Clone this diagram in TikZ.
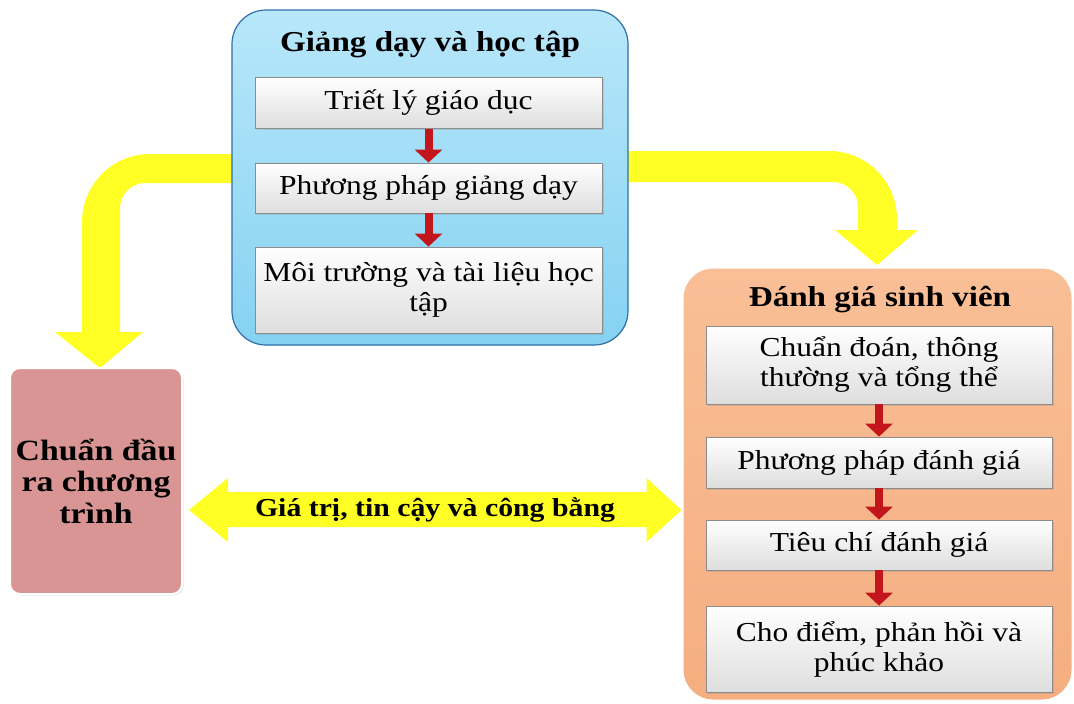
\documentclass[tikz,border=0pt]{standalone}
\usepackage{fontspec}
\setmainfont{Liberation Serif}[FakeStretch=1.15]
\usetikzlibrary{arrows.meta,shadows,calc}
\definecolor{blueA}{HTML}{B8E7FA}
\definecolor{blueB}{HTML}{86D2F2}
\definecolor{blueEdge}{HTML}{2F6FA8}
\definecolor{orangeA}{HTML}{F9BF96}
\definecolor{orangeB}{HTML}{F5AE80}
\definecolor{pinkF}{HTML}{D99594}
\definecolor{yel}{HTML}{FFFF26}
\definecolor{redA}{HTML}{C3161C}
\definecolor{grayEdge}{HTML}{8C8C8C}
\newcommand{\myBody}{\fontsize{27.4}{30}\selectfont}
\newcommand{\myTitle}{\fontsize{28.8}{31}\selectfont\bfseries}
\begin{document}
\begin{tikzpicture}[x=1pt,y=-1pt,
  innerbox/.style={draw=grayEdge, line width=0.8pt, top color=white, bottom color=black!13,
    minimum width=347pt, inner sep=0pt, align=center, font=\myBody,
    drop shadow={opacity=0.25, shadow xshift=1.5pt, shadow yshift=-1.5pt}},
  bluebox/.style={draw=blueEdge, line width=1.2pt, top color=blueA, bottom color=blueB,
    rounded corners=34pt, minimum width=396pt, minimum height=335pt, inner sep=0pt},
  orangebox/.style={draw=white, line width=1pt, top color=orangeA, bottom color=orangeB,
    rounded corners=30pt, minimum width=389pt, minimum height=432pt, inner sep=0pt},
  pinkbox/.style={draw=white, line width=2pt, fill=pinkF, rounded corners=10pt,
    minimum width=172pt, minimum height=226pt, inner sep=0pt, align=center,
    font=\fontsize{29.4}{31.5}\selectfont\bfseries,
    drop shadow={opacity=0.2, shadow xshift=1.5pt, shadow yshift=-1.5pt}},
  titletext/.style={font=\myTitle, inner sep=0pt},
  redarr/.style={draw=redA, line width=8pt, -{Triangle[width=27pt,length=13pt]}},
  yelarrow/.style={fill=yel, draw=none},
  bandlabel/.style={font=\fontsize{25.9}{28}\selectfont\bfseries, inner sep=0pt}
]
\useasboundingbox (0,0) rectangle (1074,704);
\fill[white] (0,0) rectangle (1074,704);

% ---- start points of the yellow arrows (under the blue box) ----
\coordinate (ls) at (240,154);
\coordinate (rs) at (620,151);

% ---- yellow curved arrow to the left ----
\fill[yelarrow] (ls) -- (150,154) .. controls (112.5,154) and (82,184.5) .. (82,222)
  -- (82,332) -- (55,332) -- (100,368) -- (143,332) -- (120,332) -- (120,208)
  .. controls (120,194.2) and (131.2,183) .. (145,183) -- (240,183) -- cycle;

% ---- yellow curved arrow to the right ----
\fill[yelarrow] (rs) -- (829,151) .. controls (866.5,151) and (897,181.5) .. (897,219)
  -- (897,230) -- (918,230) -- (877,265) -- (835,230) -- (858,230) -- (858,207)
  .. controls (858,193.2) and (846.8,182) .. (833,182) -- (620,182) -- cycle;

% ---- blue group ----
\node[bluebox] (blue) at (430,177.5) {};
\node[titletext] (bt) at (430,45) {Giảng dạy và học tập};
\node[innerbox, minimum height=51pt] (g1) at (428.5,103) {Triết lý giáo dục};
\node[innerbox, minimum height=50pt] (g2) at (428.5,188) {Phương pháp giảng dạy};
\node[innerbox, minimum height=86pt] (g3) at (428.5,290) {Môi trường và tài liệu học\\tập};
\draw[redarr] (g1.south) -- (g2.north);
\draw[redarr] (g2.south) -- (g3.north);

% ---- pink box ----
\node[pinkbox] (pink) at (96,481) {Chuẩn đầu\\ra chương\\trình};

% ---- orange group ----
\node[orangebox] (orange) at (877.5,484) {};
\node[titletext] (ot) at (880,300) {Đánh giá sinh viên};
\node[innerbox, minimum width=346pt, minimum height=78pt] (e1) at (879,365) {Chuẩn đoán, thông\\thường và tổng thể};
\node[innerbox, minimum width=346pt, minimum height=51pt] (e2) at (879,462.5) {Phương pháp đánh giá};
\node[innerbox, minimum width=346pt, minimum height=50pt] (e3) at (879,545) {Tiêu chí đánh giá};
\node[innerbox, minimum width=346pt, minimum height=86pt] (e4) at (879,649) {Cho điểm, phản hồi và\\phúc khảo};
\draw[redarr] (e1.south) -- (e2.north);
\draw[redarr] (e2.south) -- (e3.north);
\draw[redarr] (e3.south) -- (e4.north);

% ---- double yellow arrow ----
\coordinate (dl) at ($(pink.east)+(6,29)$);
\coordinate (dr) at ($(orange.west)+(-1,26)$);
\fill[yelarrow] (dl) -- ++(39,-32) -- ++(0,14) -- ($(dr)+(-35,-18)$) -- ++(0,-14) -- (dr)
  -- ++(-35,32) -- ++(0,-15) -- ($(dl)+(39,17)$) -- ++(0,15) -- cycle;
\node[bandlabel] (dlab) at (435,510) {Giá trị, tin cậy và công bằng};
\end{tikzpicture}
\end{document}
